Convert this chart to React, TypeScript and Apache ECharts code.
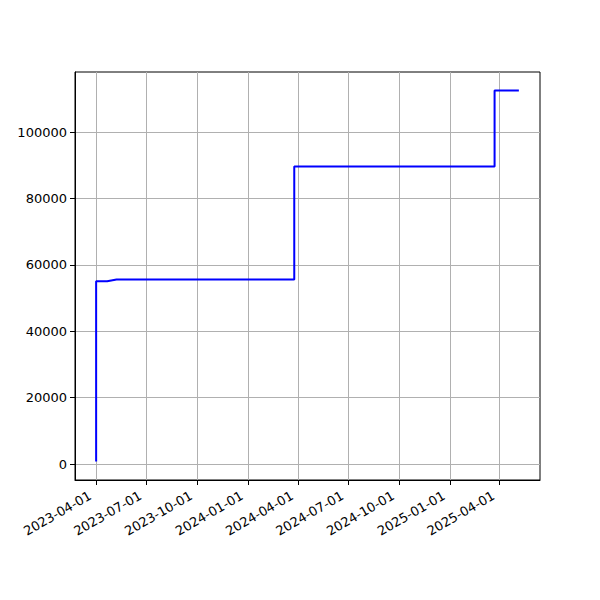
import React, { useEffect, useRef } from "react";
import * as echarts from "echarts";

const dates = [
  "2023-04-01", "2023-04-01", "2023-04-21", "2023-05-08", "2024-03-25",
  "2024-03-25", "2025-03-23", "2025-03-23", "2025-05-06",
];
const values = [800, 55100, 55100, 55600, 55600, 89600, 89600, 112500, 112500];
const xTickLabels = [
  "2023-04-01", "2023-07-01", "2023-10-01", "2024-01-01", "2024-04-01",
  "2024-07-01", "2024-10-01", "2025-01-01", "2025-04-01",
];
const yTicks = [0, 20000, 40000, 60000, 80000, 100000];

const toMs = (s: string) => {
  const [y, m, d] = s.split("-").map(Number);
  return Date.UTC(y, m - 1, d);
};
const fmt = (ms: number) => {
  const d = new Date(Math.round(ms));
  const p = (n: number) => String(n).padStart(2, "0");
  return `${d.getUTCFullYear()}-${p(d.getUTCMonth() + 1)}-${p(d.getUTCDate())}`;
};

export default function App() {
  const ref = useRef<HTMLDivElement>(null);
  useEffect(() => {
    document.body.style.margin = "0";
    const chart = echarts.init(ref.current!, null, { renderer: "svg" });
    const xs = dates.map(toMs);
    const xmin = xs[0], xmax = xs[xs.length - 1];
    const xr = xmax - xmin;
    const ymin = Math.min(...values), ymax = Math.max(...values);
    const yr = ymax - ymin;
    const tickMs = xTickLabels.map(toMs);
    const font = { fontFamily: "DejaVu Sans", fontSize: 13, color: "#000" };
    chart.setOption({
      animation: false,
      grid: {
        left: 75, right: 60, top: 72, bottom: 120,
        show: true, borderColor: "#000", borderWidth: 1, backgroundColor: "transparent",
      },
      xAxis: {
        type: "value",
        min: xmin - 0.05 * xr,
        max: xmax + 0.05 * xr,
        axisLine: { show: true, onZero: false, lineStyle: { color: "#000", width: 1 } },
        axisTick: { show: true, inside: false, length: 5, lineStyle: { color: "#000" }, customValues: tickMs },
        axisLabel: {
          ...font, rotate: 30, margin: 11, padding: [0, 7, 0, 0], customValues: tickMs,
          formatter: (v: number) => fmt(v),
        },
        splitLine: { show: true, lineStyle: { color: "#b0b0b0", width: 1 } },
      },
      yAxis: {
        type: "value",
        min: ymin - 0.05 * yr,
        max: ymax + 0.05 * yr,
        axisLine: { show: true, lineStyle: { color: "#000", width: 1 } },
        axisTick: { show: true, inside: false, length: 5, lineStyle: { color: "#000" }, customValues: yTicks },
        axisLabel: { ...font, margin: 8, customValues: yTicks, formatter: (v: number) => String(v) },
        splitLine: { show: true, lineStyle: { color: "#b0b0b0", width: 1 } },
      },
      series: [
        {
          type: "line",
          data: xs.map((x, i) => [x, values[i]]),
          showSymbol: false,
          lineStyle: { color: "#0000ff", width: 2 },
          itemStyle: { color: "#0000ff" },
        },
      ],
    });
    return () => chart.dispose();
  }, []);
  return <div ref={ref} style={{ width: 600, height: 600 }} />;
}
